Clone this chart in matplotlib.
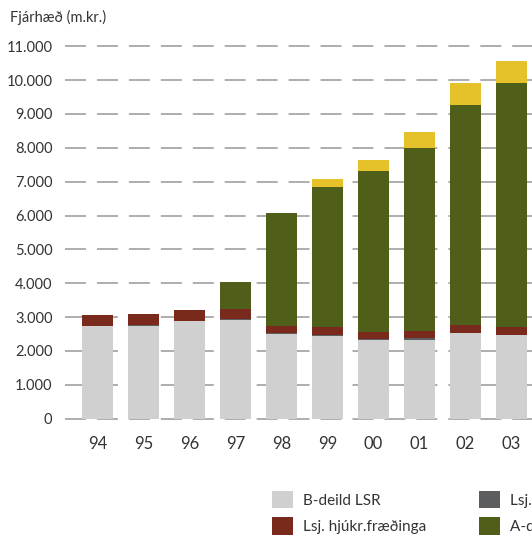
import numpy as np
import matplotlib
matplotlib.use("Agg")
import matplotlib.pyplot as plt

plt.rcParams['font.family'] = ['Lato', 'DejaVu Sans']
plt.rcParams['lines.scale_dashes'] = False

# Data (m.kr.)
years = ['94', '95', '96', '97', '98', '99', '00', '01', '02', '03']
b_deild = [2750, 2750, 2890, 2920, 2510, 2450, 2320, 2320, 2520, 2460]
lsj_ljosm = [0, 20, 0, 20, 30, 30, 30, 70, 20, 20]
lsj_hjukr = [310, 320, 320, 290, 200, 230, 210, 200, 230, 230]
a_deild = [0, 0, 0, 810, 3335, 4130, 4750, 5410, 6490, 7200]
sereign = [0, 0, 0, 0, 0, 240, 330, 470, 650, 650]

series = [
    ('B-deild LSR', b_deild, '#cfd0cf'),
    ('Lsj. ljósmæðra', lsj_ljosm, '#5b5d5f'),
    ('Lsj. hjúkr.fræðinga', lsj_hjukr, '#7a2a1c'),
    ('A-deild LSR', a_deild, '#4f5e19'),
    ('Séreign LSR', sereign, '#e5c22a'),
]

W, H = 532, 543
fig = plt.figure(figsize=(W / 100, H / 100), dpi=100)
ax = fig.add_axes([65 / W, 0.2227, 1 - 65 / W, 0.7046])

x = np.arange(len(years))
bottom = np.zeros(len(years))
handles = {}
for label, vals, color in series:
    vals = np.array(vals, dtype=float)
    b = ax.bar(x, vals, width=0.674, bottom=bottom, color=color, label=label,
               zorder=2, linewidth=0)
    handles[label] = b
    bottom += vals

ax.set_xlim(-0.707, 9.446)
ax.set_ylim(-100, 11200)
ax.set_yticks(np.arange(0, 11001, 1000))
ax.set_yticklabels([f'{v:,}'.replace(',', '.') for v in range(0, 11001, 1000)])
ax.set_xticks(x)
ax.set_xticklabels(years)

ax.yaxis.grid(True, color='#a0a0a0', linewidth=1.2, linestyle=(0, (15.1, 7.9)), zorder=0)
ax.set_axisbelow(True)
for s in ax.spines.values():
    s.set_visible(False)
ax.tick_params(axis='y', length=0, pad=9, labelsize=10.5, labelcolor='#333333')
ax.tick_params(axis='x', length=0, pad=10, labelsize=12, labelcolor='#333333')

fig.text(10 / W, 1 - 22 / H, 'Fjárhæð (m.kr.)', fontsize=10.5, color='#333333',
         ha='left', va='baseline')

# legend: the last column runs off the right edge, as in the source
order = ['B-deild LSR', 'Lsj. hjúkr.fræðinga', 'Lsj. ljósmæðra', 'A-deild LSR', 'Séreign LSR']
fig.legend([handles[k] for k in order], order, loc='upper left',
           bbox_to_anchor=(272 / W, 1 - 491 / H), ncol=3, frameon=False,
           borderpad=0, borderaxespad=0, fontsize=11, handlelength=1.37,
           handleheight=1.37, handletextpad=0.63, labelspacing=0.59,
           columnspacing=3.5, labelcolor='#333333')

fig.savefig('out.png', dpi=100)
